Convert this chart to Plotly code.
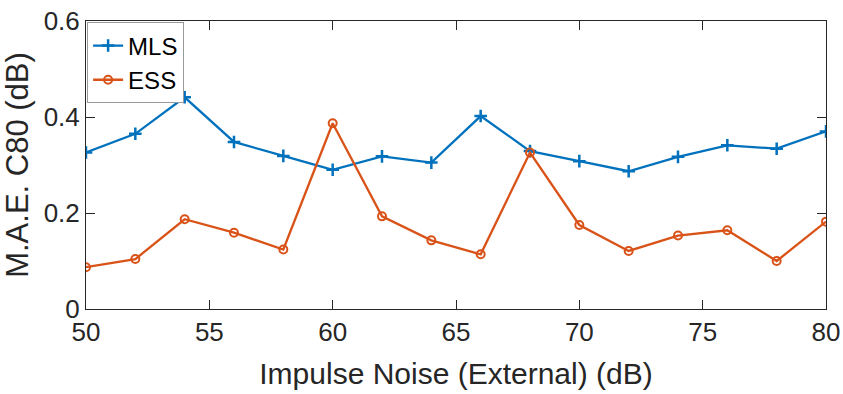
import plotly.graph_objects as go

x_vals = [50, 52, 54, 56, 58, 60, 62, 64, 66, 68, 70, 72, 74, 76, 78, 80]
mls = [0.326, 0.365, 0.441, 0.348, 0.319, 0.290, 0.318, 0.305, 0.402, 0.329,
       0.308, 0.287, 0.317, 0.341, 0.334, 0.370]
ess = [0.087, 0.104, 0.187, 0.159, 0.124, 0.387, 0.193, 0.143, 0.114, 0.326,
       0.175, 0.121, 0.153, 0.164, 0.100, 0.182]
x_ticks = [50, 55, 60, 65, 70, 75, 80]
y_ticks = [0, 0.2, 0.4, 0.6]
y_tick_text = ["0", "0.2", "0.4", "0.6"]

FONT = "Liberation Sans, Arial"
INK = "#262626"

fig = go.Figure()
fig.add_trace(go.Scatter(
    x=x_vals, y=mls, name="MLS", mode="lines+markers",
    line=dict(color="#0072BD", width=2.3),
    marker=dict(symbol="cross-thin", size=9, line=dict(color="#0072BD", width=2.5)),
))
fig.add_trace(go.Scatter(
    x=x_vals, y=ess, name="ESS", mode="lines+markers",
    line=dict(color="#D95319", width=2.3),
    marker=dict(symbol="circle-open", size=8, color="#D95319", line=dict(color="#D95319", width=2)),
))

axis_common = dict(
    showgrid=False, zeroline=False, showline=True, linecolor=INK, linewidth=1,
    mirror="ticks", ticks="inside", ticklen=9, tickcolor=INK, tickwidth=1,
    tickfont=dict(family=FONT, size=26, color=INK), automargin=False,
)
fig.update_xaxes(range=[50, 80], tickvals=x_ticks, **axis_common,
                 title=dict(text="Impulse Noise (External) (dB)", standoff=16,
                            font=dict(family=FONT, size=30, color=INK)))
fig.update_yaxes(range=[0, 0.6], tickvals=y_ticks, ticktext=y_tick_text, **axis_common,
                 title=dict(text="M.A.E. C80 (dB)", standoff=8,
                            font=dict(family=FONT, size=31, color=INK)))

fig.update_layout(
    width=843, height=394,
    margin=dict(l=86, r=17, t=21, b=85),
    paper_bgcolor="white", plot_bgcolor="white",
    legend=dict(x=0.0015, y=0.995, xanchor="left", yanchor="top",
                bgcolor="white", bordercolor="#999999", borderwidth=1,
                font=dict(family=FONT, size=24, color="#000000"),
                itemwidth=30, tracegroupgap=0),
    showlegend=True,
)
fig.write_html("out.html")
